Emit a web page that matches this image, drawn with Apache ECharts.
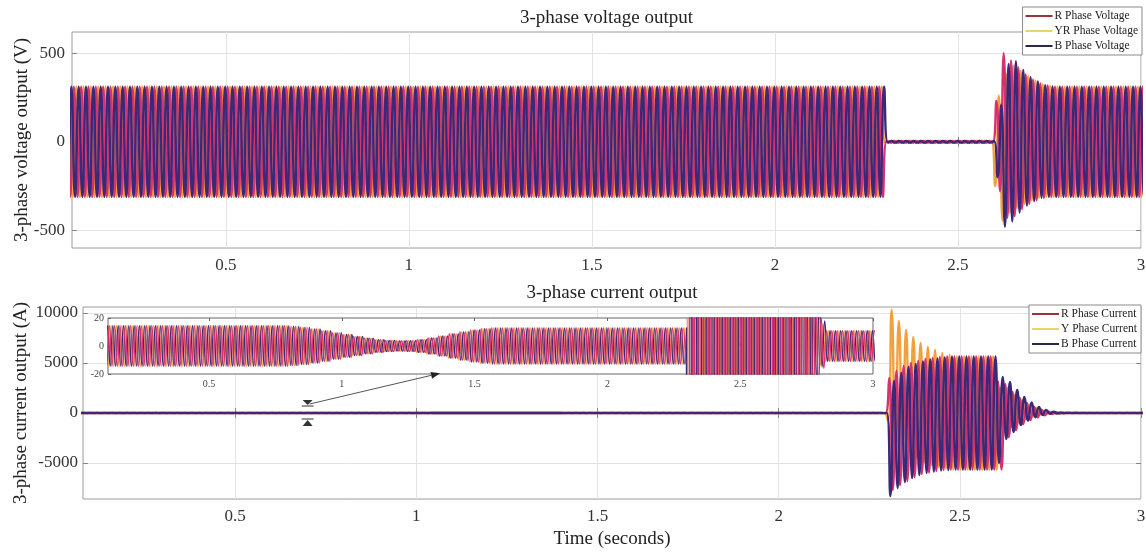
<!DOCTYPE html>
<html>
<head>
<meta charset="utf-8">
<title>3-phase voltage and current output</title>
<script src="https://cdn.jsdelivr.net/npm/echarts@6/dist/echarts.min.js"></script>
<style>
  html, body { margin: 0; padding: 0; background: #fff; }
  #chart { width: 1146px; height: 554px; }
</style>
</head>
<body>
<div id="chart"></div>
<script>
// ---- time axis ----
const T_MIN = 0.08;
const T_MAX = 3;
const INSET_T_MIN = 0.12;
const FREQUENCY = 50; // Hz
const timeTicks = [0.5, 1, 1.5, 2, 2.5, 3];
const voltageTicks = [-500, 0, 500];
const currentTicks = [-5000, 0, 5000, 10000];
const insetCurrentTicks = [-20, 0, 20];

const voltageNames = ['R Phase Voltage', 'YR Phase Voltage', 'B Phase Voltage'];
const currentNames = ['R Phase Current', 'Y Phase Current', 'B Phase Current'];

// ---- voltage (V) ----
// steady stretches: [start s, end s, peak V]
const voltageSteady = [[0, 2.30, 311], [2.30, 2.60, 5], [2.76, 3.05, 311]];
// reclosing transient from 2.60 s, one [positive peak, negative peak] pair per cycle
const voltageBurstStart = 2.60;
const voltageBurstR = [[230, -280], [500, -430], [460, -420], [420, -380], [380, -350], [350, -330], [330, -318], [318, -312]];
const voltageBurstY = [[260, -250], [380, -445], [430, -400], [400, -375], [370, -350], [345, -330], [325, -316], [315, -311]];
const voltageBurstB = [[210, -200], [440, -480], [455, -450], [405, -400], [365, -360], [340, -335], [320, -316], [312, -311]];

// ---- current (A) ----
// steady stretches: [start s, end s, peak A]
const currentSteady = [
  [0, 0.80, 14.5], [0.80, 0.84, 14], [0.84, 0.88, 13.3], [0.88, 0.92, 12.3],
  [0.92, 0.96, 11], [0.96, 1.00, 9.6], [1.00, 1.04, 8.2], [1.04, 1.08, 6.8],
  [1.08, 1.12, 5.6], [1.12, 1.16, 4.6], [1.16, 1.20, 4], [1.20, 1.24, 3.7],
  [1.24, 1.28, 3.9], [1.28, 1.32, 4.6], [1.32, 1.36, 5.8], [1.36, 1.40, 7.3],
  [1.40, 1.44, 8.9], [1.44, 1.48, 10.3], [1.48, 1.52, 11.5], [1.52, 1.56, 12.4],
  [1.56, 1.62, 12.9], [1.62, 2.30, 13],
  [2.48, 2.60, 5650], [2.82, 3.05, 11]
];
// inrush from 2.30 s
const currentBurst1Start = 2.30;
const currentBurst1R = [[3500, -7700], [4200, -7200], [4700, -6800], [5000, -6400], [5200, -6100], [5400, -5950], [5500, -5800], [5600, -5700], [5650, -5650]];
const currentBurst1Y = [[10300, -800], [9200, -2200], [8300, -3200], [7600, -3900], [7000, -4500], [6600, -4900], [6300, -5200], [6000, -5400], [5800, -5550]];
const currentBurst1B = [[3200, -8300], [4000, -7500], [4600, -6900], [4900, -6500], [5150, -6200], [5350, -6000], [5450, -5850], [5550, -5750], [5650, -5700]];
// decay from 2.60 s
const currentBurst2Start = 2.60;
const currentBurst2R = [[3200, -5650], [2900, -2400], [2100, -1700], [1500, -1100], [1000, -700], [600, -420], [320, -220], [150, -100], [70, -50], [35, -28], [20, -16]];
const currentBurst2Y = [[2500, -5650], [2500, -2000], [1800, -1400], [1250, -950], [850, -600], [480, -330], [230, -150], [100, -70], [50, -38], [28, -22], [16, -14]];
const currentBurst2B = [[3600, -5000], [3100, -2600], [2300, -1900], [1600, -1200], [1050, -750], [600, -430], [300, -200], [130, -90], [60, -45], [32, -26], [18, -15]];

// phase lag of each phase, in cycles (R, Y, B)
const phaseLag = [0, 1 / 3, 2 / 3];

const seriesColors = ['#d6336e', '#f3a03c', '#3a2878'];
const legendColors = ['#9b3434', '#e6d66a', '#2a2a48'];
const FONT = 'Liberation Serif';

// Builds the successive peaks of one phase; smoothed lines join them.
function phasePeaks(lag, steady, bursts) {
  const period = 1 / FREQUENCY;
  const half = period / 2;
  const shift = (0.25 + lag) * period;
  const kStart = Math.floor((T_MIN - 2 * half - shift) / half);
  const pts = [];
  for (let k = kStart; ; k++) {
    const t = shift + k * half;
    if (t > T_MAX + 2 * half) break;
    const positive = (((k % 2) + 2) % 2) === 0;
    let v = null;
    for (const b of bursts) {
      const idx = Math.floor((t - b.start) / period);
      if (t >= b.start && idx < b.peaks.length) {
        v = b.peaks[idx][positive ? 0 : 1];
        break;
      }
    }
    if (v === null) {
      const seg = steady.find(s => t >= s[0] && t < s[1]);
      const amp = seg ? seg[2] : 0;
      v = positive ? amp : -amp;
    }
    pts.push([+t.toFixed(5), v]);
  }
  return pts;
}

const voltageData = [
  phasePeaks(phaseLag[0], voltageSteady, [{ start: voltageBurstStart, peaks: voltageBurstR }]),
  phasePeaks(phaseLag[1], voltageSteady, [{ start: voltageBurstStart, peaks: voltageBurstY }]),
  phasePeaks(phaseLag[2], voltageSteady, [{ start: voltageBurstStart, peaks: voltageBurstB }])
];
const currentData = [
  phasePeaks(phaseLag[0], currentSteady, [{ start: currentBurst1Start, peaks: currentBurst1R }, { start: currentBurst2Start, peaks: currentBurst2R }]),
  phasePeaks(phaseLag[1], currentSteady, [{ start: currentBurst1Start, peaks: currentBurst1Y }, { start: currentBurst2Start, peaks: currentBurst2Y }]),
  phasePeaks(phaseLag[2], currentSteady, [{ start: currentBurst1Start, peaks: currentBurst1B }, { start: currentBurst2Start, peaks: currentBurst2B }])
];

const chart = echarts.init(document.getElementById('chart'), null, { renderer: 'canvas' });

const plain = v => String(v);
const tickLabel = { fontFamily: FONT, fontSize: 17, color: '#333', formatter: plain };
const gridLine = { show: true, lineStyle: { color: '#e3e3e3', width: 1 } };
const nameText = { fontFamily: FONT, fontSize: 19, color: '#222' };

function mainX(gridIndex, extra) {
  return Object.assign({
    type: 'value', gridIndex, min: T_MIN, max: T_MAX,
    axisLine: { show: false },
    axisTick: { show: true, inside: true, length: 5, customValues: timeTicks, lineStyle: { color: '#888' } },
    axisLabel: Object.assign({ customValues: timeTicks, margin: 9 }, tickLabel),
    splitLine: gridLine
  }, extra || {});
}
function mirrorX(gridIndex, min, max, ticks, extra) {
  return Object.assign({
    type: 'value', gridIndex, position: 'top', min, max,
    axisLine: { show: false },
    axisTick: { show: true, inside: true, length: 5, customValues: ticks, lineStyle: { color: '#888' } },
    axisLabel: { show: false },
    splitLine: { show: false }
  }, extra || {});
}
function mainY(gridIndex, min, max, ticks, margin) {
  return {
    type: 'value', gridIndex, min, max,
    axisLine: { show: false },
    axisTick: { show: true, inside: true, length: 5, customValues: ticks, lineStyle: { color: '#888' } },
    axisLabel: Object.assign({ customValues: ticks, margin }, tickLabel),
    splitLine: gridLine
  };
}
function mirrorY(gridIndex, min, max, ticks) {
  return {
    type: 'value', gridIndex, position: 'right', min, max,
    axisLine: { show: false },
    axisTick: { show: true, inside: true, length: 5, customValues: ticks, lineStyle: { color: '#888' } },
    axisLabel: { show: false },
    splitLine: { show: false }
  };
}

const drawOrder = [1, 0, 2];       // Y underneath, B on top
const insetDrawOrder = [1, 2, 0];  // the zoomed view shows R on top
const series = [];
drawOrder.forEach((p, n) => {
  series.push({
    name: voltageNames[p], type: 'line', xAxisIndex: 0, yAxisIndex: 0,
    data: voltageData[p], smooth: 0.5, showSymbol: false, symbol: 'none',
    lineStyle: { color: seriesColors[p], width: 2.4 }, itemStyle: { color: seriesColors[p] },
    z: 2 + n, silent: true
  });
  series.push({
    name: currentNames[p], type: 'line', xAxisIndex: 2, yAxisIndex: 2,
    data: currentData[p], smooth: 0.5, showSymbol: false, symbol: 'none',
    lineStyle: { color: seriesColors[p], width: 2.4 }, itemStyle: { color: seriesColors[p] },
    z: 2 + n, silent: true
  });
});
insetDrawOrder.forEach((p, n) => {
  series.push({
    name: currentNames[p], type: 'line', xAxisIndex: 4, yAxisIndex: 4,
    data: currentData[p], smooth: 0.5, showSymbol: false, symbol: 'none',
    lineStyle: { color: seriesColors[p], width: 1.3 }, itemStyle: { color: seriesColors[p] },
    z: 8 + n, silent: true
  });
});

const legendBase = {
  orient: 'vertical', icon: 'rect', itemWidth: 27, itemHeight: 2, itemGap: 3,
  borderColor: '#8a8a8a', borderWidth: 1, borderRadius: 0, backgroundColor: '#fff',
  padding: [3, 4, 3, 3], selectedMode: false,
  textStyle: { fontFamily: FONT, fontSize: 11.5, color: '#222', padding: [0, 0, 0, -3] }
};

chart.setOption({
  animation: false,
  backgroundColor: '#fff',
  grid: [
    { left: 72, top: 32, right: 5, height: 216, outerBoundsMode: 'none', containLabel: false, show: true, borderColor: '#9a9a9a', borderWidth: 1, backgroundColor: 'transparent' },
    { left: 83, top: 307, right: 5, height: 192, outerBoundsMode: 'none', containLabel: false, show: true, borderColor: '#9a9a9a', borderWidth: 1, backgroundColor: 'transparent' },
    { left: 108, top: 318, width: 765, height: 56, outerBoundsMode: 'none', containLabel: false, show: true, borderColor: '#666', borderWidth: 1, backgroundColor: '#fff', z: 5 }
  ],
  xAxis: [
    mainX(0),
    mirrorX(0, T_MIN, T_MAX, timeTicks, {
      name: '3-phase voltage output', nameLocation: 'middle', nameGap: 4,
      nameMoveOverlap: false, nameTextStyle: nameText
    }),
    mainX(1, {
      name: 'Time (seconds)', nameLocation: 'middle', nameGap: 31,
      nameMoveOverlap: false, nameTextStyle: nameText
    }),
    mirrorX(1, T_MIN, T_MAX, timeTicks, {
      name: '3-phase current output', nameLocation: 'middle', nameGap: 4,
      nameMoveOverlap: false, nameTextStyle: nameText
    }),
    {
      type: 'value', gridIndex: 2, min: INSET_T_MIN, max: T_MAX, z: 6,
      axisLine: { show: false },
      axisTick: { show: true, inside: true, length: 3, customValues: timeTicks, lineStyle: { color: '#666' } },
      axisLabel: { customValues: timeTicks, margin: 5, fontFamily: FONT, fontSize: 10, color: '#444', formatter: plain },
      splitLine: { show: false }
    },
    Object.assign(mirrorX(2, INSET_T_MIN, T_MAX, timeTicks), { z: 6, axisTick: { show: true, inside: true, length: 3, customValues: timeTicks, lineStyle: { color: '#666' } } })
  ],
  yAxis: [
    Object.assign(mainY(0, -600, 620, voltageTicks, 7), {
      name: '3-phase voltage output (V)', nameLocation: 'middle', nameGap: 40,
      nameMoveOverlap: false, nameTextStyle: nameText
    }),
    mirrorY(0, -600, 620, voltageTicks),
    Object.assign(mainY(1, -8600, 10600, currentTicks, 5), {
      name: '3-phase current output (A)', nameLocation: 'middle', nameGap: 52,
      nameMoveOverlap: false, nameTextStyle: nameText
    }),
    mirrorY(1, -8600, 10600, currentTicks),
    {
      type: 'value', gridIndex: 2, min: -20, max: 20, z: 6,
      axisLine: { show: false },
      axisTick: { show: true, inside: true, length: 3, customValues: insetCurrentTicks, lineStyle: { color: '#666' } },
      axisLabel: { customValues: insetCurrentTicks, margin: 4, fontFamily: FONT, fontSize: 10, color: '#444', formatter: plain },
      splitLine: { show: false }
    }
  ],
  legend: [
    Object.assign({}, legendBase, {
      right: 4, top: 7,
      data: voltageNames.map((n, i) => ({ name: n, itemStyle: { color: legendColors[i] } }))
    }),
    Object.assign({}, legendBase, {
      right: 5, top: 305,
      data: currentNames.map((n, i) => ({ name: n, itemStyle: { color: legendColors[i] } }))
    })
  ],
  series
});

// zoom markers around the small pre-fault current and the pointer to the inset
function drawPointer() {
  const c = chart.convertToPixel({ gridIndex: 1 }, [0.7, 0]);
  const tail = chart.convertToPixel({ gridIndex: 1 }, [0.7, 900]);
  const tip = chart.convertToPixel({ gridIndex: 2 }, [1.37, -19.5]);
  const x = c[0], y = c[1];
  const ang = Math.atan2(tip[1] - tail[1], tip[0] - tail[0]);
  const hl = 9, hw = 3.5;
  const bx = tip[0] - hl * Math.cos(ang), by = tip[1] - hl * Math.sin(ang);
  const head = [
    [tip[0], tip[1]],
    [bx + hw * Math.sin(ang), by - hw * Math.cos(ang)],
    [bx - hw * Math.sin(ang), by + hw * Math.cos(ang)]
  ];
  const ink = '#333';
  chart.setOption({
    graphic: [
      { type: 'line', shape: { x1: tail[0] + 2, y1: tail[1], x2: bx, y2: by }, style: { stroke: '#555', lineWidth: 1 }, z: 20, silent: true },
      { type: 'polygon', shape: { points: head }, style: { fill: '#222' }, z: 20, silent: true },
      { type: 'polygon', shape: { points: [[x - 5, y - 13], [x + 5, y - 13], [x, y - 8]] }, style: { fill: ink }, z: 20, silent: true },
      { type: 'line', shape: { x1: x - 6, y1: y - 7, x2: x + 6, y2: y - 7 }, style: { stroke: ink, lineWidth: 1 }, z: 20, silent: true },
      { type: 'line', shape: { x1: x - 6, y1: y + 6, x2: x + 6, y2: y + 6 }, style: { stroke: ink, lineWidth: 1 }, z: 20, silent: true },
      { type: 'polygon', shape: { points: [[x, y + 7], [x - 5, y + 13], [x + 5, y + 13]] }, style: { fill: ink }, z: 20, silent: true }
    ]
  });
}
drawPointer();
</script>
</body>
</html>
